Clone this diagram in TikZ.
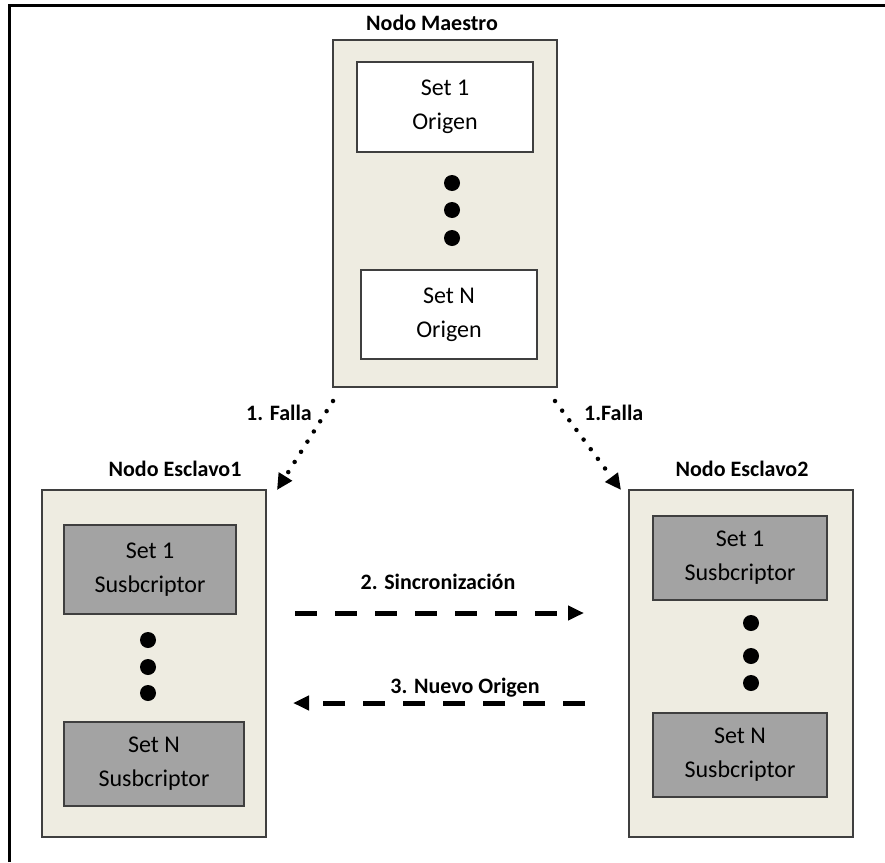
\documentclass[tikz,border=0pt]{standalone}
\usepackage{fontspec}
\setmainfont{Carlito}
\usetikzlibrary{arrows.meta}
\definecolor{beige}{HTML}{EEECE1}
\definecolor{subgray}{HTML}{A3A3A3}
\definecolor{edgegray}{HTML}{3F3F3F}
\begin{document}
\begin{tikzpicture}[x=1pt,y=-1pt,
  outerbox/.style={draw=edgegray,line width=1.6pt,fill=beige,minimum width=224pt,minimum height=347pt,inner sep=0pt},
  origbox/.style={draw=edgegray,line width=1.6pt,fill=white,minimum width=176pt,inner sep=0pt,align=center,font=\fontsize{24}{34}\selectfont},
  subbox/.style={draw=edgegray,line width=1.6pt,fill=subgray,minimum width=174pt,inner sep=0pt,align=center,font=\fontsize{24}{34}\selectfont},
  titletext/.style={font=\bfseries\fontsize{22}{24}\selectfont,inner sep=0pt},
  lbltext/.style={font=\bfseries\fontsize{22}{24}\selectfont,inner sep=0pt},
  bigdot/.style={circle,fill=black,minimum size=16pt,inner sep=0pt},
  dotarrow/.style={line width=4.5pt,dash pattern=on 0pt off 12pt,line cap=round,-{Triangle[length=16pt,width=15pt,line cap=butt]}},
  dasharrow/.style={line width=5pt,dash pattern=on 22pt off 18pt,-{Triangle[length=16pt,width=14pt]}}
]
\useasboundingbox (0,0) rectangle (885,862);
\fill[white] (0,0) rectangle (885,862);
\draw[line width=3pt] (9,862) -- (9,5) -- (885,5);

% master
\node[outerbox] (master) at (445,213.5) {};
\node[titletext] (mtitle) at (432,23) {Nodo Maestro};
\node[origbox,minimum height=90pt] (m1) at (445,107) {Set 1\\Origen};
\node[bigdot] (md1) at (452,183) {};
\node[bigdot] (md2) at (452,210) {};
\node[bigdot] (md3) at (452,238) {};
\node[origbox,minimum height=89pt] (mN) at (449,314.5) {Set N\\Origen};

% left slave
\node[outerbox] (s1) at (154,663.5) {};
\node[titletext] (s1title) at (175,469) {Nodo Esclavo1};
\node[subbox,minimum width=172pt,minimum height=89pt] (s1a) at (150,569.5) {Set 1\\Susbcriptor};
\node[bigdot] (s1d1) at (148,640) {};
\node[bigdot] (s1d2) at (148,667) {};
\node[bigdot] (s1d3) at (148,693) {};
\node[subbox,minimum width=180pt,minimum height=84pt] (s1N) at (154,764) {Set N\\Susbcriptor};

% right slave
\node[outerbox] (s2) at (741,663.5) {};
\node[titletext] (s2title) at (742,469) {Nodo Esclavo2};
\node[subbox,minimum height=84pt] (s2a) at (740,558) {Set 1\\Susbcriptor};
\node[bigdot] (s2d1) at (751,623) {};
\node[bigdot] (s2d2) at (751,656) {};
\node[bigdot] (s2d3) at (751,683) {};
\node[subbox,minimum height=84pt] (s2N) at (740,755) {Set N\\Susbcriptor};

% connector ends
\coordinate (fa) at (333,401);
\coordinate (fb) at (277,490);
\coordinate (fc) at (555,401);
\coordinate (fd) at (621,490);
\coordinate (sa) at (295,613);
\coordinate (sb) at (584,613);
\coordinate (na) at (585,703);
\coordinate (nb) at (293,703);

\draw[dotarrow] (fa) -- (fb);
\draw[dotarrow] (fc) -- (fd);
\draw[dasharrow] (sa) -- (sb);
\draw[dasharrow] (na) -- (nb);

\node[lbltext,anchor=east] (l1) at (312,413) {1. Falla};
\node[lbltext,anchor=west] (l2) at (584,413) {1.Falla};
\node[lbltext] (l3) at (438,582) {2. Sincronización};
\node[lbltext] (l4) at (465,688) {3. Nuevo Origen};
\end{tikzpicture}
\end{document}
